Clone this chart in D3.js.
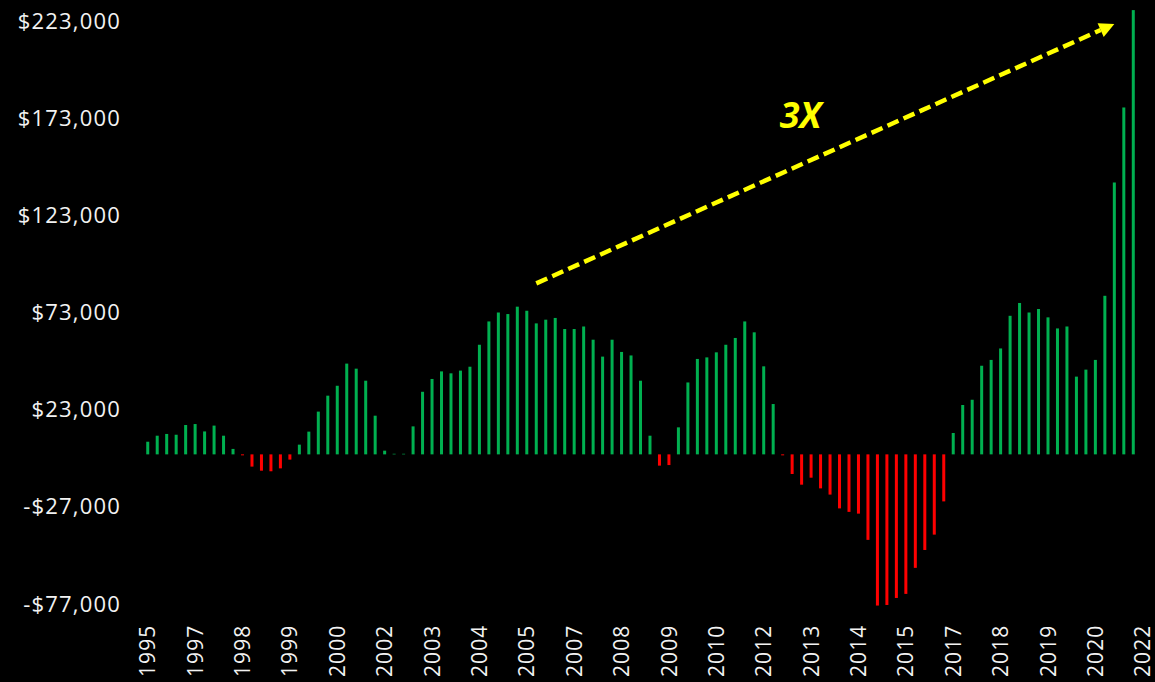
<!DOCTYPE html>
<html>
<head>
<meta charset="utf-8">
<script src="https://cdn.jsdelivr.net/npm/d3@7"></script>
<style>
  html, body { margin: 0; padding: 0; background: #000; }
  svg { display: block; }
</style>
</head>
<body>
<div id="chart"></div>
<script>
// quarterly categories, 1995Q4 .. 2022Q1
const quarters = [
  '1995Q4',
  '1996Q1', '1996Q2', '1996Q3', '1996Q4',
  '1997Q1', '1997Q2', '1997Q3', '1997Q4',
  '1998Q1', '1998Q2', '1998Q3', '1998Q4',
  '1999Q1', '1999Q2', '1999Q3', '1999Q4',
  '2000Q1', '2000Q2', '2000Q3', '2000Q4',
  '2001Q1', '2001Q2', '2001Q3', '2001Q4',
  '2002Q1', '2002Q2', '2002Q3', '2002Q4',
  '2003Q1', '2003Q2', '2003Q3', '2003Q4',
  '2004Q1', '2004Q2', '2004Q3', '2004Q4',
  '2005Q1', '2005Q2', '2005Q3', '2005Q4',
  '2006Q1', '2006Q2', '2006Q3', '2006Q4',
  '2007Q1', '2007Q2', '2007Q3', '2007Q4',
  '2008Q1', '2008Q2', '2008Q3', '2008Q4',
  '2009Q1', '2009Q2', '2009Q3', '2009Q4',
  '2010Q1', '2010Q2', '2010Q3', '2010Q4',
  '2011Q1', '2011Q2', '2011Q3', '2011Q4',
  '2012Q1', '2012Q2', '2012Q3', '2012Q4',
  '2013Q1', '2013Q2', '2013Q3', '2013Q4',
  '2014Q1', '2014Q2', '2014Q3', '2014Q4',
  '2015Q1', '2015Q2', '2015Q3', '2015Q4',
  '2016Q1', '2016Q2', '2016Q3', '2016Q4',
  '2017Q1', '2017Q2', '2017Q3', '2017Q4',
  '2018Q1', '2018Q2', '2018Q3', '2018Q4',
  '2019Q1', '2019Q2', '2019Q3', '2019Q4',
  '2020Q1', '2020Q2', '2020Q3', '2020Q4',
  '2021Q1', '2021Q2', '2021Q3', '2021Q4',
  '2022Q1'
];

// value per quarter, same order as quarters (null = no bar)
const values = [
  6500,
  9600, 10500, 10100, 15100,
  15600, 11800, 14800, 9600,
  2800, -500, -6300, -8400,
  -8700, -7200, -2700, 5000,
  11700, 22000, 30200, 35300,
  46700, 44100, 37900, 19900,
  1900, 300, 300, 14400,
  32200, 38800, 42700, 41700,
  43100, 45100, 56400, 68400,
  73000, 72200, 76000, 73900,
  67400, 69300, 70200, 64500,
  64500, 65800, 59000, 50300,
  59000, 52700, 50900, 37900,
  9600, -5800, -5500, 13900,
  37000, 49100, 49900, 52500,
  56400, 59900, 68400, 62800,
  45300, 25900, -500, -10100,
  -15600, -12000, -17500, -20700,
  -27800, -29600, -30500, -44000,
  -77800, -77500, -73900, -71800,
  -58400, -49200, -41300, -24200,
  11000, 25400, 28100, 45600,
  48600, 54500, 71300, 77900,
  73000, 74800, 70500, 64800,
  65800, 40000, 43600, 48600,
  81600, 139900, 178500, 228600,
  null
];

// labelled categories on the x axis
const tickQuarters = [
  '1995Q4', '1997Q1', '1998Q2', '1999Q3', '2000Q4', '2002Q1', '2003Q2',
  '2004Q3', '2005Q4', '2007Q1', '2008Q2', '2009Q3', '2010Q4', '2012Q1',
  '2013Q2', '2014Q3', '2015Q4', '2017Q1', '2018Q2', '2019Q3', '2020Q4', '2022Q1'
];
const yTicks = [-77000, -27000, 23000, 73000, 123000, 173000, 223000];

// "3X" arrow, in quarter / value units
const arrowFrom = { q: '2006Q1', v: 88000 };
const arrowTo = { q: '2021Q2', v: 221500 };
const noteText = '3X';
const notePos = { q: '2013Q1', v: 168000 };

const width = 1155;
const height = 682;
const green = '#00b050';
const red = '#ff0000';
const yellow = '#ffff00';

const svg = d3.select('#chart').append('svg')
  .attr('width', width)
  .attr('height', height)
  .style('background', '#000');

const x = d3.scaleBand().domain(quarters).range([143, 1147.5]).padding(0);
const y = d3.scaleLinear().domain([-77000, 223000]).range([604, 21]);
const barW = 3;
const cx = (q) => x(q) + x.bandwidth() / 2;

// bars
const bars = quarters.map((q, i) => ({ q: q, v: values[i] })).filter((d) => d.v !== null);
svg.append('g').selectAll('rect').data(bars).enter()
  .append('rect')
  .attr('x', (d) => cx(d.q) - barW / 2)
  .attr('y', (d) => Math.min(y(d.v), y(0)))
  .attr('width', barW)
  .attr('height', (d) => Math.abs(y(d.v) - y(0)))
  .attr('fill', (d) => d.v >= 0 ? green : red);

// y axis
const money = (v) => (v < 0 ? '-$' : '$') + d3.format(',')(Math.abs(v));
const yAxis = d3.axisLeft(y).tickValues(yTicks).tickFormat(money).tickSize(0).tickPadding(0);
const gy = svg.append('g')
  .attr('transform', 'translate(121,0)')
  .call(yAxis);
gy.select('.domain').remove();
gy.selectAll('text')
  .attr('fill', '#f2f2f2')
  .style('font-family', '"Open Sans", sans-serif')
  .style('font-size', '22px')
  .style('letter-spacing', '1.2px');

// x axis
const xAxis = d3.axisBottom(x).tickValues(tickQuarters).tickFormat((d) => d.slice(0, 4)).tickSize(0);
const gx = svg.append('g')
  .attr('transform', 'translate(0,677)')
  .call(xAxis);
gx.select('.domain').remove();
gx.selectAll('text')
  .attr('fill', '#f2f2f2')
  .attr('transform', 'rotate(-90)')
  .attr('x', 0)
  .attr('y', 0)
  .attr('dy', '0.36em')
  .attr('text-anchor', 'start')
  .style('font-family', '"Open Sans", sans-serif')
  .style('font-size', '21px')
  .style('letter-spacing', '1.1px');

// dashed arrow
const x1 = cx(arrowFrom.q), y1 = y(arrowFrom.v);
const x2 = cx(arrowTo.q), y2 = y(arrowTo.v);
const ang = Math.atan2(y2 - y1, x2 - x1);
const headLen = 15, headHalf = 7.5;
const bx = x2 - headLen * Math.cos(ang), by = y2 - headLen * Math.sin(ang);
svg.append('line')
  .attr('x1', x1).attr('y1', y1)
  .attr('x2', bx).attr('y2', by)
  .attr('stroke', yellow)
  .attr('stroke-width', 4.5)
  .attr('stroke-dasharray', '12,5.5');
svg.append('path')
  .attr('d', 'M' + x2 + ',' + y2 +
    'L' + (bx - headHalf * Math.sin(ang)) + ',' + (by + headHalf * Math.cos(ang)) +
    'L' + (bx + headHalf * Math.sin(ang)) + ',' + (by - headHalf * Math.cos(ang)) + 'Z')
  .attr('fill', yellow);

svg.append('text')
  .attr('x', cx(notePos.q) - 1)
  .attr('y', y(notePos.v))
  .attr('text-anchor', 'middle')
  .attr('fill', yellow)
  .style('font-family', '"Open Sans", sans-serif')
  .style('font-size', '36px')
  .style('font-weight', 'bold')
  .style('font-style', 'italic')
  .text(noteText);
</script>
</body>
</html>
